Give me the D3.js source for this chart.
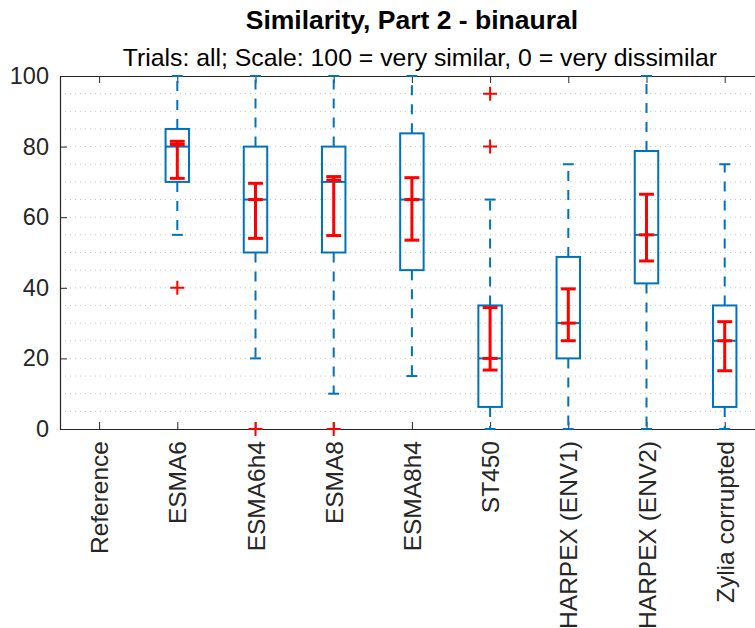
<!DOCTYPE html>
<html>
<head>
<meta charset="utf-8">
<script src="https://cdn.jsdelivr.net/npm/d3@7"></script>
<style>
  body { margin: 0; background: #fff; }
  svg { display: block; font-family: "Liberation Sans", Arial, Helvetica, sans-serif; }
</style>
</head>
<body>
<svg id="chart" width="755" height="628"></svg>
<script>
// Listening-test ratings per rendering method (0..100 similarity scale)
const categories = ["Reference", "ESMA6", "ESMA6h4", "ESMA8", "ESMA8h4", "ST450",
                    "HARPEX (ENV1)", "HARPEX (ENV2)", "Zylia corrupted"];
const whiskerLow  = [null, 55, 20, 10, 15, 0, 0, 0, 0];
const q1          = [null, 70, 50, 50, 45, 6.25, 20, 41.25, 6.25];
const medians     = [null, 80, 65, 70, 65, 20, 30, 55, 25];
const q3          = [null, 85, 80, 80, 83.75, 35, 48.75, 78.75, 35];
const whiskerHigh = [null, 100, 100, 100, 100, 65, 75, 100, 75];
const outliers    = [[], [40], [0], [0], [], [95, 80], [], [], []];
// mean with confidence interval
const means       = [null, 80.6, 65, 70.5, 65, 20, 30, 55, 25];
const ciLow       = [null, 71, 54, 54.8, 53.5, 16.7, 25, 47.6, 16.5];
const ciHigh      = [null, 81.5, 69.6, 71.5, 71.2, 34.4, 39.7, 66.5, 30.4];
const yTicks      = [0, 20, 40, 60, 80, 100];

const titleText = "Similarity, Part 2 - binaural";
const subtitleText = "Trials: all; Scale: 100 = very similar, 0 = very dissimilar";

const svg = d3.select("#chart");
const axisColor = "#262626";
const blue = "#0072BD";
const red = "#FF0000";

const x = d3.scaleLinear().domain([0.5, categories.length + 0.5]).range([60, 763.8]);
const y = d3.scaleLinear().domain([0, 100]).range([429, 76]);
const [x0, x1] = x.range();

// dotted grid every 5 units
svg.append("g").selectAll("line")
  .data(d3.range(5, 100, 5))
  .join("line")
  .attr("x1", x0).attr("x2", x1)
  .attr("y1", d => y(d)).attr("y2", d => y(d))
  .attr("stroke", "#c4c4c4")
  .attr("stroke-width", 1)
  .attr("stroke-dasharray", "1,4");

// axes
const pos = categories.map((_, i) => i + 1);
const styleAxis = g => {
  g.select(".domain").attr("stroke", axisColor).attr("stroke-width", 1.2);
  g.selectAll(".tick line").attr("stroke", axisColor).attr("stroke-width", 1);
  g.selectAll(".tick text").attr("fill", axisColor);
};

svg.append("g")
  .attr("transform", `translate(${x0},0)`)
  .call(d3.axisLeft(y).tickValues(yTicks).tickSizeInner(-7).tickSizeOuter(0).tickPadding(11))
  .call(styleAxis)
  .call(g => g.selectAll(".tick text").attr("font-size", 23.5).attr("font-family", null));

svg.append("g")
  .attr("transform", `translate(0,${y(0)})`)
  .call(d3.axisBottom(x).tickValues(pos).tickFormat(d => categories[d - 1])
        .tickSizeInner(-7).tickSizeOuter(0))
  .call(styleAxis)
  .call(g => g.selectAll(".tick text")
    .attr("font-size", 24.5).attr("font-family", null)
    .attr("transform", "rotate(-90)")
    .attr("text-anchor", "end")
    .attr("x", -12).attr("y", 0).attr("dy", "0.35em"));

svg.append("g")
  .attr("transform", `translate(0,${y(100)})`)
  .call(d3.axisTop(x).tickValues(pos).tickFormat("").tickSizeInner(-7).tickSizeOuter(0))
  .call(styleAxis);

// boxes
const boxW = x(1.15) - x(0.85);
const capW = x(1.07) - x(0.93);
const ciW = x(1.095) - x(0.905);
const stats = pos.map((p, i) => ({
  p, lo: whiskerLow[i], q1: q1[i], med: medians[i], q3: q3[i], hi: whiskerHigh[i],
  mean: means[i], cl: ciLow[i], ch: ciHigh[i], out: outliers[i]
})).filter(d => d.med !== null);

const gBox = svg.append("g");
const box = gBox.selectAll("g").data(stats).join("g");

box.append("line") // upper whisker
  .attr("x1", d => x(d.p)).attr("x2", d => x(d.p))
  .attr("y1", d => y(d.q3)).attr("y2", d => y(d.hi))
  .attr("stroke", blue).attr("stroke-width", 2).attr("stroke-dasharray", "10,9");
box.append("line") // lower whisker
  .attr("x1", d => x(d.p)).attr("x2", d => x(d.p))
  .attr("y1", d => y(d.q1)).attr("y2", d => y(d.lo))
  .attr("stroke", blue).attr("stroke-width", 2).attr("stroke-dasharray", "10,9");
box.append("line")
  .attr("x1", d => x(d.p) - capW / 2).attr("x2", d => x(d.p) + capW / 2)
  .attr("y1", d => y(d.hi)).attr("y2", d => y(d.hi))
  .attr("stroke", blue).attr("stroke-width", 2);
box.append("line")
  .attr("x1", d => x(d.p) - capW / 2).attr("x2", d => x(d.p) + capW / 2)
  .attr("y1", d => y(d.lo)).attr("y2", d => y(d.lo))
  .attr("stroke", blue).attr("stroke-width", 2);
box.append("rect")
  .attr("x", d => x(d.p) - boxW / 2).attr("width", boxW)
  .attr("y", d => y(d.q3)).attr("height", d => y(d.q1) - y(d.q3))
  .attr("fill", "none").attr("stroke", blue).attr("stroke-width", 2);
box.append("line")
  .attr("x1", d => x(d.p) - boxW / 2).attr("x2", d => x(d.p) + boxW / 2)
  .attr("y1", d => y(d.med)).attr("y2", d => y(d.med))
  .attr("stroke", blue).attr("stroke-width", 2);

// mean and confidence interval
box.append("line")
  .attr("x1", d => x(d.p)).attr("x2", d => x(d.p))
  .attr("y1", d => y(d.cl)).attr("y2", d => y(d.ch))
  .attr("stroke", red).attr("stroke-width", 3);
[d => d.cl, d => d.ch, d => d.mean].forEach(acc => {
  box.append("line")
    .attr("x1", d => x(d.p) - ciW / 2).attr("x2", d => x(d.p) + ciW / 2)
    .attr("y1", d => y(acc(d))).attr("y2", d => y(acc(d)))
    .attr("stroke", red).attr("stroke-width", 3);
});

// outliers
const plus = 7;
box.selectAll("path.out")
  .data(d => d.out.map(v => ({ p: d.p, v })))
  .join("path")
  .attr("class", "out")
  .attr("d", o => {
    const cx = x(o.p), cy = y(o.v);
    return `M${cx - plus},${cy}H${cx + plus}M${cx},${cy - plus}V${cy + plus}`;
  })
  .attr("stroke", red).attr("stroke-width", 2).attr("fill", "none");

// titles
const cx = (x0 + x1) / 2;
svg.append("text")
  .attr("x", cx).attr("y", 29)
  .attr("text-anchor", "middle")
  .attr("font-size", 26.5).attr("font-weight", "bold").attr("fill", "#000")
  .text(titleText);
svg.append("text")
  .attr("x", cx + 8).attr("y", 66)
  .attr("text-anchor", "middle")
  .attr("font-size", 24.8).attr("fill", "#000")
  .text(subtitleText);
</script>
</body>
</html>
